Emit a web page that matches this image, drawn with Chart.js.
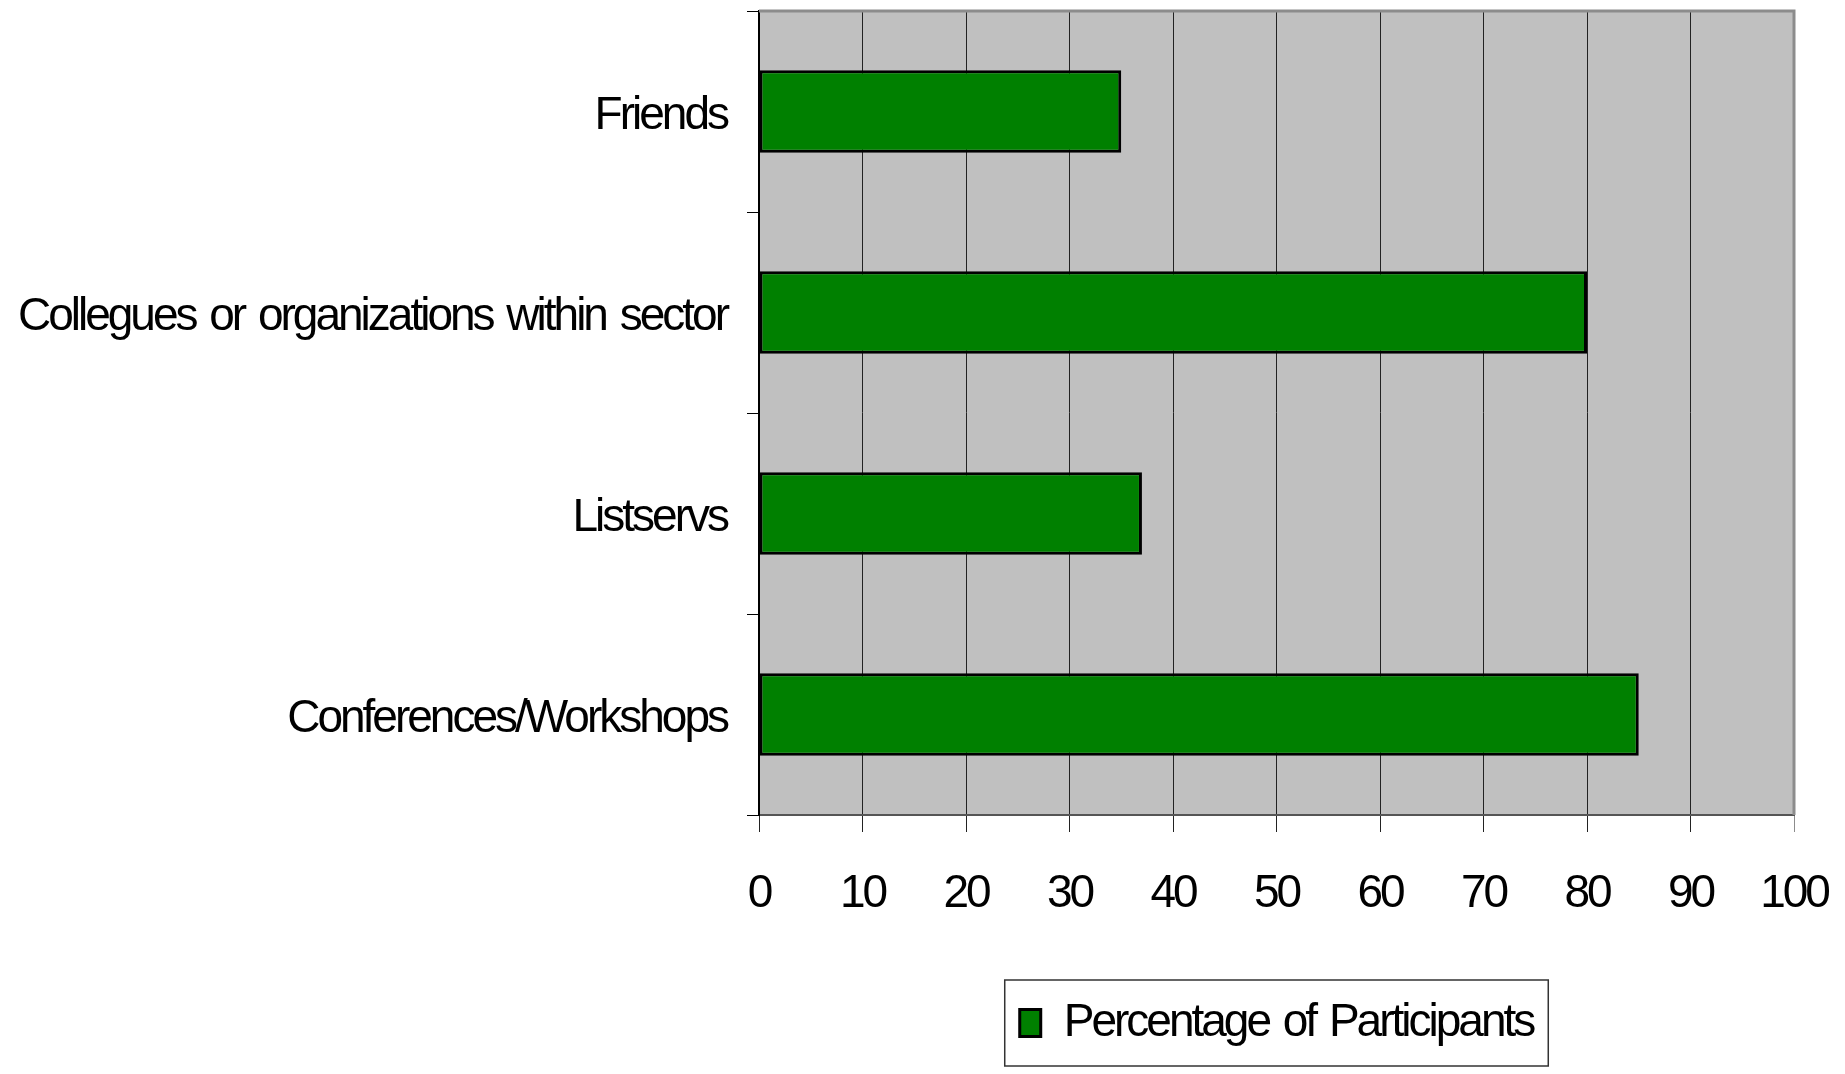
<!DOCTYPE html>
<html>
<head>
<meta charset="utf-8">
<title>Percentage of Participants</title>
<script src="https://cdn.jsdelivr.net/npm/chart.js@4"></script>
<style>
  html, body { margin: 0; padding: 0; background: #fff; }
  #wrap { width: 1845px; height: 1074px; }
</style>
</head>
<body>
<div id="wrap"><canvas id="sourcesChart"></canvas></div>
<script>
// where participants heard about it
var categories = ['Friends', 'Collegues or organizations within sector', 'Listservs', 'Conferences/Workshops'];
var participants = [35, 80, 37, 85];
var xTickValues = [0, 10, 20, 30, 40, 50, 60, 70, 80, 90, 100];

var narrow = "'Liberation Sans Narrow', 'Arial Narrow', 'Liberation Sans', Arial, sans-serif";
var fontSize = 46;

// tighten the letters a bit (no narrow face installed), keep the word gaps
function tighten(chart) {
    chart.ctx.letterSpacing = '-3px';
    chart.ctx.wordSpacing = '4px';
}

// grey plot background, grey top/right edge, box round the legend
var plotFrame = {
    id: 'plotFrame',
    beforeUpdate: tighten,
    beforeDraw: function(chart) {
        tighten(chart);
        var a = chart.chartArea, ctx = chart.ctx;
        ctx.save();
        ctx.fillStyle = '#c0c0c0';
        ctx.fillRect(a.left, a.top, a.right - a.left, a.bottom - a.top);
        ctx.restore();
    },
    afterDraw: function(chart) {
        var a = chart.chartArea, ctx = chart.ctx;
        ctx.save();
        ctx.strokeStyle = '#8c8c8c';
        ctx.lineWidth = 3;
        ctx.beginPath();
        ctx.moveTo(a.left, a.top);
        ctx.lineTo(a.right, a.top);
        ctx.lineTo(a.right, a.bottom);
        ctx.stroke();

        var box = chart.legend.legendHitBoxes[0];
        if (box) {
            ctx.strokeStyle = '#333';
            ctx.lineWidth = 1.5;
            ctx.strokeRect(box.left - 15, box.top - 20, box.width + 30, box.height + 40);
        }
        ctx.restore();
    }
};

window.onload = function() {
    var ctx = document.getElementById('sourcesChart').getContext('2d');
    var sourcesChart = new Chart(ctx, {
        type: 'bar',
        data: {
            labels: categories,
            datasets: [{
                label: 'Percentage of Participants',
                data: participants,
                backgroundColor: '#008000',
                borderColor: '#000',
                borderWidth: 3,
                borderSkipped: false,
                categoryPercentage: 1,
                barPercentage: 0.41
            }]
        },
        options: {
            indexAxis: 'y',
            responsive: true,
            maintainAspectRatio: false,
            animation: false,
            layout: {
                padding: { top: 11, right: 51, bottom: 18, left: 0 }
            },
            scales: {
                x: {
                    min: 0,
                    max: 100,
                    afterBuildTicks: function(scale) {
                        scale.ticks = xTickValues.map(function(v) { return { value: v }; });
                    },
                    afterFit: function(scale) {
                        scale.height = 165;
                        scale.paddingLeft = 0;
                        scale.paddingRight = 0;
                    },
                    grid: {
                        color: function(c) { return c.index === 10 ? '#8c8c8c' : '#222'; },
                        lineWidth: 1,
                        tickLength: 17
                    },
                    border: { color: '#555', width: 2 },
                    ticks: {
                        color: '#000',
                        padding: 35,
                        maxRotation: 0,
                        font: { family: narrow, size: fontSize }
                    }
                },
                y: {
                    afterFit: function(scale) {
                        scale.width = 759;
                        scale.paddingTop = 0;
                        scale.paddingBottom = 0;
                    },
                    grid: {
                        offset: true,
                        drawOnChartArea: false,
                        color: '#000',
                        tickLength: 12
                    },
                    border: { color: '#000', width: 2 },
                    ticks: {
                        color: '#000',
                        padding: 20,
                        labelOffset: 5,
                        font: { family: narrow, size: fontSize }
                    }
                }
            },
            plugins: {
                legend: {
                    position: 'bottom',
                    fullSize: false,
                    labels: {
                        color: '#000',
                        boxWidth: 21,
                        boxHeight: 27,
                        padding: 20,
                        font: { family: narrow, size: fontSize }
                    }
                },
                tooltip: { enabled: false }
            }
        },
        plugins: [plotFrame]
    });
};
</script>
</body>
</html>
